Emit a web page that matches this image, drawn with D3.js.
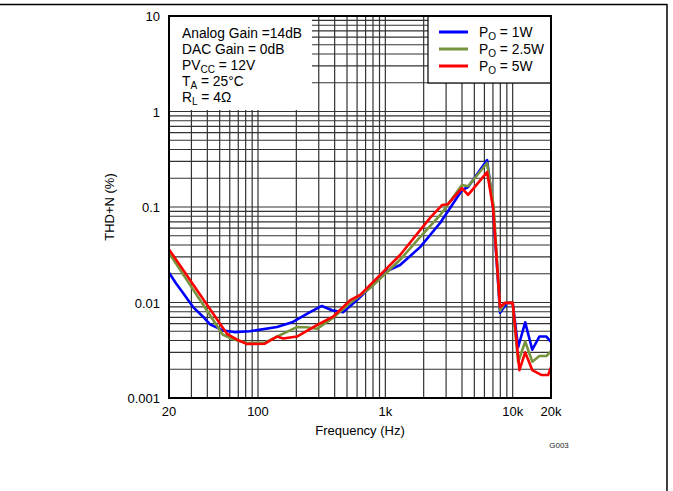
<!DOCTYPE html>
<html><head><meta charset="utf-8">
<script src="https://cdn.jsdelivr.net/npm/d3@7"></script>
<style>body{margin:0;background:#fff}svg{display:block;font-family:"Liberation Sans",Arial,sans-serif}</style>
</head><body><svg id="c" width="673" height="491"></svg>
<script>
// Data
const freq1 = [20,22.6,25.8,30.8,37,42,53,65,86,141,188,250,317,381,465,600,800,1000,1306,1875,2692,3995,4466,6300,7015,7960,9036,10000,11040,12540,14250,16200,18400,20000];
const thd1  = [0.0205,0.016,0.0126,0.009,0.0071,0.0059,0.0051,0.0049,0.005,0.00553,0.00625,0.0078,0.0092,0.0083,0.0079,0.0106,0.0155,0.021,0.0247,0.038,0.068,0.15,0.162,0.31,0.1,0.0078,0.0099,0.0099,0.0034,0.0062,0.0032,0.0044,0.0044,0.00386];
const freq25 = [20,53,65,82,113,141,202,241,290,388,530,760,1306,1875,2692,3995,4466,6300,7100,7960,8700,10000,11040,12540,14250,16200,18400,20000];
const thd25  = [0.033,0.0046,0.0041,0.00377,0.0038,0.0044,0.00553,0.0055,0.0053,0.0069,0.0099,0.0142,0.028,0.0485,0.082,0.17,0.165,0.289,0.1,0.0082,0.0099,0.0099,0.00238,0.0039,0.0024,0.00275,0.00275,0.0031];
const freq5 = [20,57,68,82,113,141,158,202,290,388,530,635,1306,2245,2800,3100,3995,4466,6300,7015,7960,8700,10000,11300,12540,14250,16900,19000,20000];
const thd5  = [0.036,0.0047,0.0041,0.00367,0.0037,0.0044,0.0042,0.0044,0.0058,0.0071,0.0106,0.012,0.0314,0.077,0.105,0.107,0.158,0.134,0.232,0.098,0.009,0.0099,0.0099,0.00196,0.003,0.00196,0.00174,0.00174,0.0021];
const seriesNames = ["1W","2.5W","5W"];
const seriesColors = ["#0000ff","#77933c","#ff0000"];
const xTicks = [20,100,1000,10000,20000];
const xTickLabels = ["20","100","1k","10k","20k"];
const yTicks = [0.001,0.01,0.1,1,10];
const yTickLabels = ["0.001","0.01","0.1","1","10"];
const notes = [["Analog Gain =14dB",""],["DAC Gain = 0dB",""],["PV","CC"," = 12V"],["T","A"," = 25°C"],["R","L"," = 4Ω"]];

const svg = d3.select("#c");
const L=169, R=551, T=16, B=398;
const x = d3.scaleLog().domain([20,20000]).range([L,R]);
const y = d3.scaleLog().domain([0.001,10]).range([B,T]);

// outer frame
svg.append("line").attr("x1",0).attr("x2",667).attr("y1",4.5).attr("y2",4.5).attr("stroke","#000").attr("stroke-width",1.5);
svg.append("line").attr("x1",667).attr("x2",667).attr("y1",4).attr("y2",491).attr("stroke","#000").attr("stroke-width",1.5);

// grid
const g = svg.append("g");
const xGrid = [];
for (let d=10; d<=10000; d*=10) for (let m=1;m<10;m++){const v=d*m; if(v>20&&v<20000) xGrid.push(v);}
const yGrid = [];
for (let d=0.001; d<9; d*=10) for (let m=1;m<10;m++){const v=d*m; if(v>0.0011&&v<9.9) yGrid.push(v);}
g.selectAll("line.xg").data(xGrid).join("line").attr("x1",d=>x(d)).attr("x2",d=>x(d)).attr("y1",T).attr("y2",B).attr("stroke","#333").attr("stroke-width",1.2);
g.selectAll("line.yg").data(yGrid).join("line").attr("y1",d=>y(d)).attr("y2",d=>y(d)).attr("x1",L).attr("x2",R).attr("stroke","#333").attr("stroke-width",1.2);

// annotation box (white, covers grid)
svg.append("rect").attr("x",L).attr("y",T).attr("width",143).attr("height",94).attr("fill","#fff");
const nt = svg.append("g").attr("font-size",13.8).attr("fill","#000");
notes.forEach((n,i)=>{
  const t = nt.append("text").attr("x",182).attr("y",38+i*16);
  t.append("tspan").text(n[0]);
  if(n.length>2){
    t.append("tspan").attr("font-size",10).attr("dy",3).text(n[1]);
    t.append("tspan").attr("dy",-3).text(n[2]);
  }
});

// curves
const line = d3.line().x(d=>x(d[0])).y(d=>y(d[1]));
const data = [d3.zip(freq1,thd1), d3.zip(freq25,thd25), d3.zip(freq5,thd5)];
svg.append("clipPath").attr("id","cp").append("rect").attr("x",L).attr("y",T).attr("width",R-L).attr("height",B-T);
data.forEach((d,i)=>{
  svg.append("path").datum(d).attr("d",line).attr("fill","none").attr("stroke",seriesColors[i]).attr("stroke-width",2.6).attr("stroke-linejoin","round").attr("clip-path","url(#cp)");
});

// legend
svg.append("rect").attr("x",428).attr("y",T).attr("width",R-428).attr("height",67).attr("fill","#fff").attr("stroke","#000").attr("stroke-width",1.2);
seriesNames.forEach((n,i)=>{
  const yy = 32+i*17;
  svg.append("line").attr("x1",439).attr("x2",468).attr("y1",yy).attr("y2",yy).attr("stroke",seriesColors[i]).attr("stroke-width",3);
  const t = svg.append("text").attr("x",479).attr("y",yy+5).attr("font-size",13.8);
  t.append("tspan").text("P");
  t.append("tspan").attr("font-size",10).attr("dy",3).text("O");
  t.append("tspan").attr("dy",-3).text(" = "+n);
});

// plot border
svg.append("rect").attr("x",L).attr("y",T).attr("width",R-L).attr("height",B-T).attr("fill","none").attr("stroke","#000").attr("stroke-width",2);

// axes labels
svg.selectAll("text.xt").data(xTicks).join("text").attr("x",d=>x(d)).attr("y",416).attr("text-anchor","middle").attr("font-size",13).text((d,i)=>xTickLabels[i]);
svg.selectAll("text.yt").data(yTicks).join("text").attr("x",160).attr("y",d=>y(d)+5).attr("text-anchor","end").attr("font-size",13).text((d,i)=>yTickLabels[i]);
svg.append("text").attr("x",360).attr("y",435).attr("text-anchor","middle").attr("font-size",13).text("Frequency (Hz)");
svg.append("text").attr("transform","translate(114,207) rotate(-90)").attr("text-anchor","middle").attr("font-size",13).text("THD+N (%)");
svg.append("text").attr("x",559).attr("y",448).attr("text-anchor","middle").attr("font-size",8).attr("fill","#222").text("G003");
</script></body></html>
